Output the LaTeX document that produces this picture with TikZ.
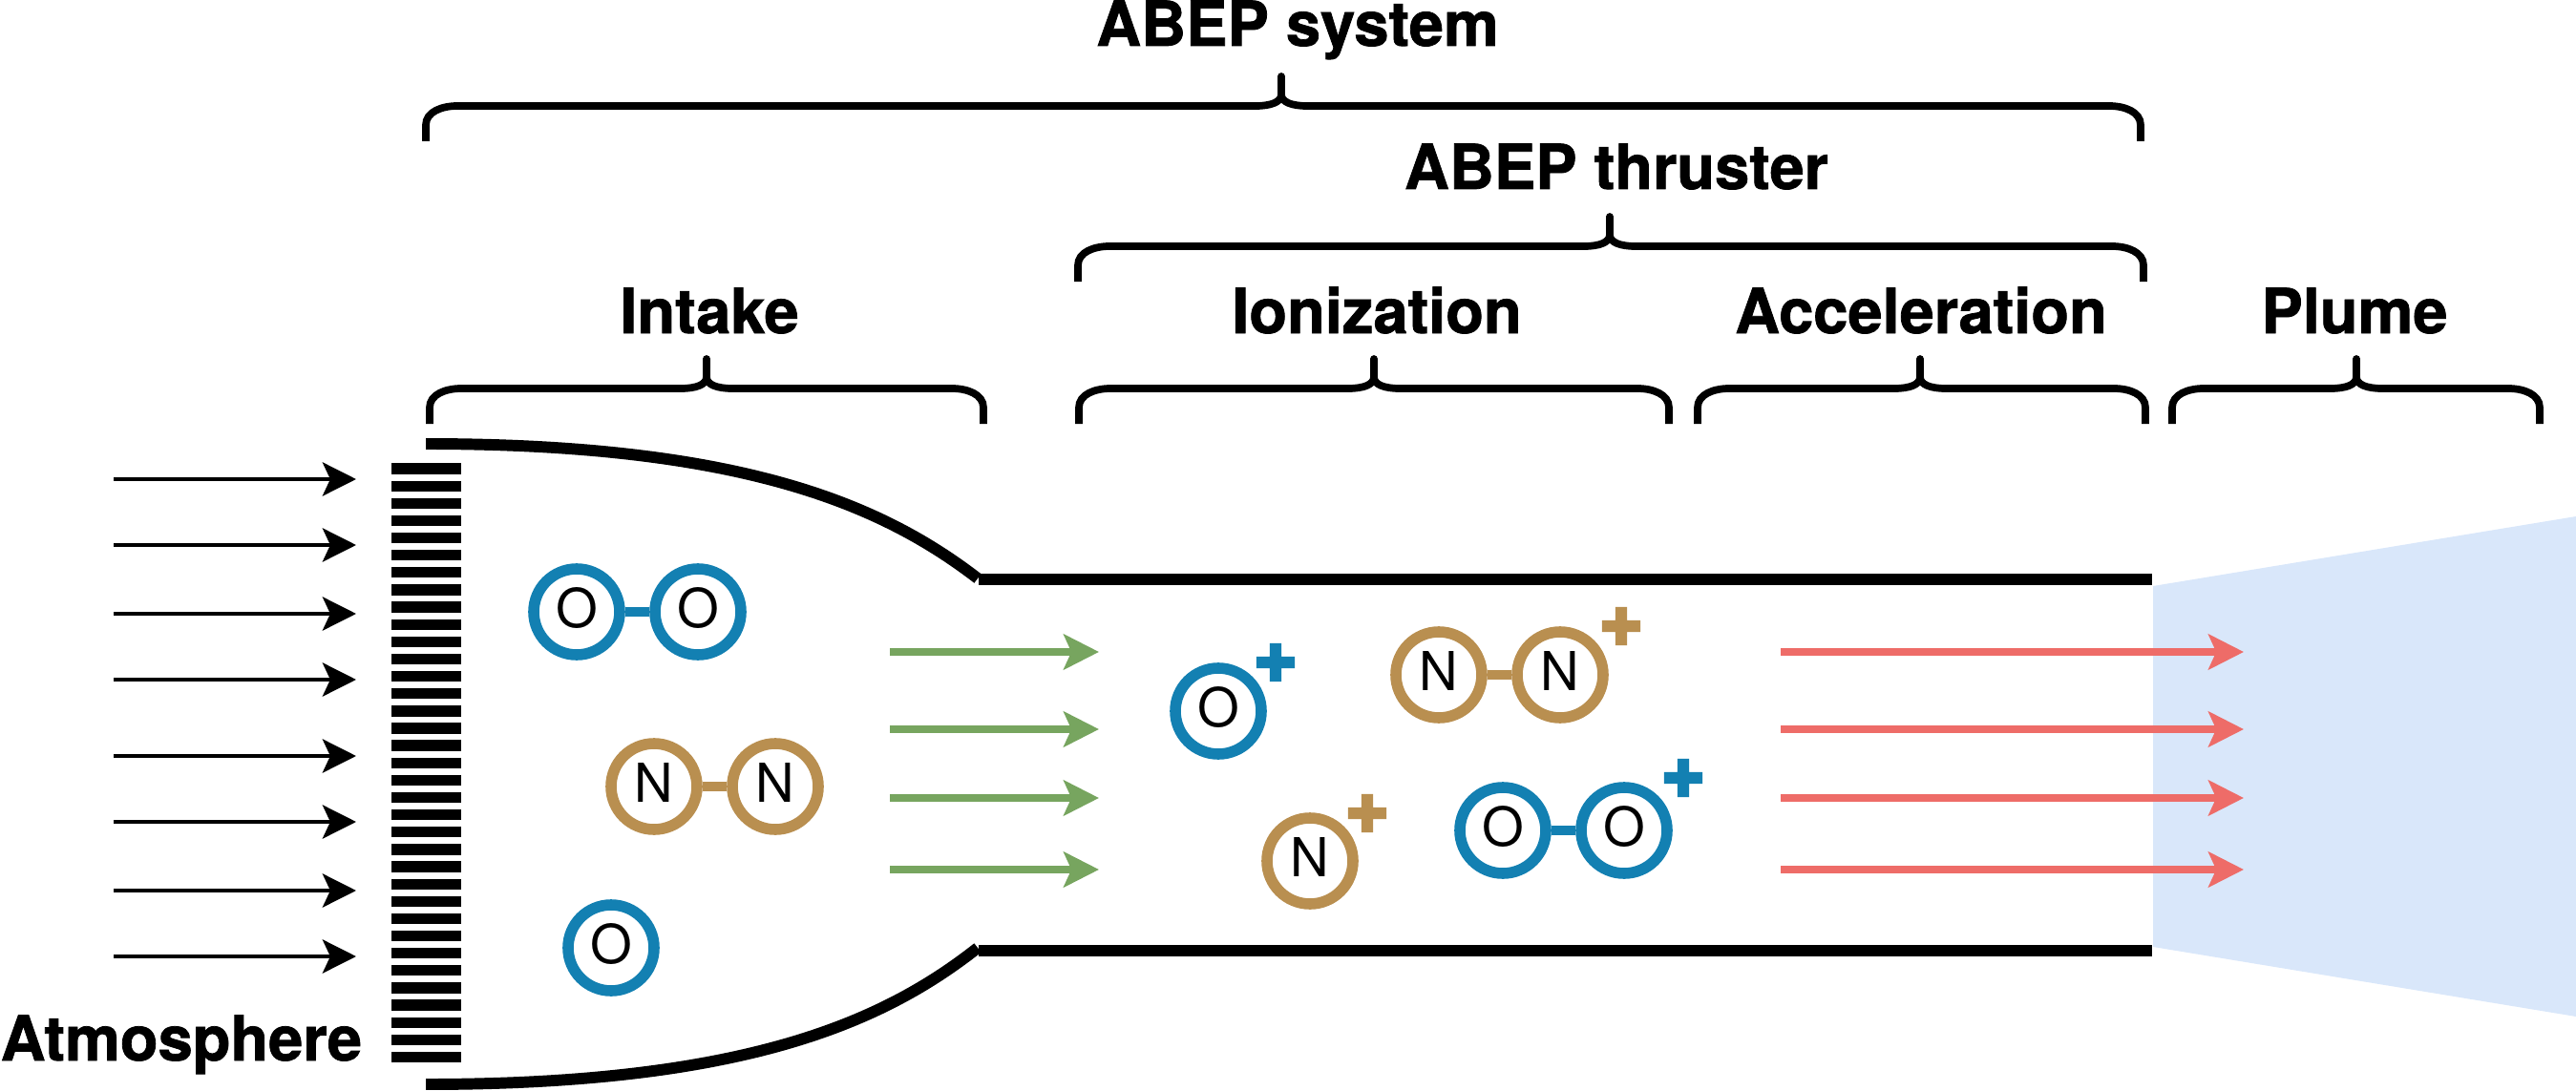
\documentclass[tikz,border=0pt]{standalone}
\usepackage{fontspec}
\setmainfont[BoldFeatures={FakeBold=1.2}]{TeX Gyre Heros}
\newfontfamily\plusfont[FakeBold=16]{DejaVu Sans}
\usepackage{xcolor}
\usepackage{tikz}
\usetikzlibrary{shapes.geometric, arrows.meta, calc}

\definecolor{oxblue}{HTML}{1380B2}
\definecolor{nitan}{HTML}{B98F50}
\definecolor{accred}{HTML}{EE6C68}
\definecolor{intgreen}{HTML}{77A55F}
\definecolor{plumeblue}{HTML}{D9E7FA}

\newcommand{\sectionbrace}[4]{%
    \draw[bracestroke] (#1,#4) -- ++(0,0.17) .. controls +(0,0.14) and +(-0.16,0) .. ++(0.33,0.20)
        -- ({#2-0.27},{#4+0.37}) .. controls +(0.16,0) and +(0,-0.08) .. ++(0.27,0.12)
        .. controls +(0,-0.08) and +(-0.16,0) .. ++(0.27,-0.12)
        -- ({#3-0.33},{#4+0.37}) .. controls +(0.16,0) and +(0,0.14) .. ++(0.33,-0.20) -- ++(0,-0.17);
    \draw[bracestroke, line cap=round] (#2,{#4+0.49}) -- (#2,{#4+0.68});
}

\begin{document}
\begin{tikzpicture}[
            atom/.style={circle, draw, line width=3.3pt, minimum size=0.9cm, inner sep=0pt,
            font=\fontsize{16}{16}\selectfont, text=black, text height=11.4pt, text depth=2.2pt},
            oatom/.style={atom, draw=oxblue},
            natom/.style={atom, draw=nitan},
            obond/.style={line width=3.1pt, oxblue},
            nbond/.style={line width=3.1pt, nitan},
            charge/.style={inner sep=0pt, font=\fontsize{14.5}{14.5}\plusfont},
            lbl/.style={anchor=base, inner sep=0pt, font=\fontsize{18.5}{18.5}\selectfont\bfseries},
            bracestroke/.style={line width=2.2pt, black},
            wall/.style={line width=3.4pt, black},
            air/.style={-{Stealth[length=10pt, width=10pt, inset=2.3pt]}, line width=1.2pt, black},
            flowin/.style={-{Stealth[length=10.5pt, width=10.5pt, inset=2.3pt]}, line width=2.1pt, intgreen},
            flowout/.style={-{Stealth[length=10.5pt, width=10.5pt, inset=2.3pt]}, line width=2.1pt, accred}
        ]
            \useasboundingbox (0,0) rectangle (26.98,11.42);

            % Plume
            \fill[plumeblue] (22.55,5.28) -- (26.98,6.01) -- (26.98,0.77) -- (22.55,1.50) -- cycle;

            % Intake grid
            \foreach \i in {0,...,34}
                \fill[black] (4.10,{6.566-0.1813*\i}) rectangle (4.83,{6.566-0.1813*\i-0.113});

            % Duct walls
            \draw[wall] (4.46,6.77) .. controls (7.80,6.77) and (9.25,6.12) .. (10.24,5.36);
            \draw[wall] (4.46,0.06) .. controls (7.80,0.06) and (9.25,0.71) .. (10.24,1.49);
            \draw[wall] (10.25,5.35) -- (22.54,5.35);
            \draw[wall] (10.25,1.46) -- (22.54,1.46);

            % Atmosphere arrows
            \foreach \y [count=\i] in {6.40,5.71,4.99,4.30,3.50,2.81,2.09,1.40} {
                \coordinate (airs\i) at (1.19,\y);
                \coordinate (aire\i) at (3.73,\y);
                \draw[air] (airs\i) -- (aire\i);
            }

            % Flow through the thruster
            \foreach \y [count=\i] in {4.59,3.78,3.06,2.31} {
                \coordinate (ins\i)  at (9.32,\y);
                \coordinate (ine\i)  at (11.51,\y);
                \coordinate (outs\i) at (18.65,\y);
                \coordinate (oute\i) at (23.50,\y);
                \draw[flowin]  (ins\i)  -- (ine\i);
                \draw[flowout] (outs\i) -- (oute\i);
            }

            % Neutral particles in the intake
            \node[oatom] (oa)  at (6.04,5.01) {O};
            \node[oatom] (ob)  at (7.31,5.01) {O};
            \node[natom] (na)  at (6.85,3.18) {N};
            \node[natom] (nb)  at (8.12,3.18) {N};
            \node[oatom] (oc)  at (6.40,1.49) {O};
            \draw[obond] (oa) -- (ob);
            \draw[nbond] (na) -- (nb);

            % Ions
            \node[oatom] (oion)  at (12.76,3.97) {O};
            \node[charge, text=oxblue] (oplus) at (13.36,4.48) {+};
            \node[natom] (nna)   at (15.07,4.35) {N};
            \node[natom] (nnb)   at (16.34,4.35) {N};
            \node[charge, text=nitan] (nnplus) at (16.98,4.86) {+};
            \node[natom] (nion)  at (13.72,2.40) {N};
            \node[charge, text=nitan] (nplus) at (14.32,2.90) {+};
            \node[oatom] (ooa)   at (15.74,2.72) {O};
            \node[oatom] (oob)   at (17.01,2.72) {O};
            \node[charge, text=oxblue] (ooplus) at (17.63,3.27) {+};
            \draw[nbond] (nna) -- (nnb);
            \draw[obond] (ooa) -- (oob);

            % Braces
            \sectionbrace{4.46}{13.42}{22.42}{9.94}
            \sectionbrace{11.29}{16.86}{22.45}{8.47}
            \sectionbrace{4.50}{7.40}{10.30}{6.98}
            \sectionbrace{11.30}{14.39}{17.48}{6.98}
            \sectionbrace{17.78}{20.11}{22.47}{6.98}
            \sectionbrace{22.75}{24.68}{26.60}{6.98}

            % Labels
            \node[lbl] (system)   at (13.59,10.94) {ABEP system};
            \node[lbl] (thruster) at (16.93,9.44)  {ABEP thruster};
            \node[lbl] (intake)   at (7.43,7.93)   {Intake};
            \node[lbl] (ioniz)    at (14.42,7.93)  {Ionization};
            \node[lbl] (accel)    at (20.12,7.93)  {Acceleration};
            \node[lbl] (plume)    at (24.66,7.93)  {Plume};
            \node[lbl, anchor=base west] (atm) at (0,0.31) {Atmosphere};

        \end{tikzpicture}
\end{document}
